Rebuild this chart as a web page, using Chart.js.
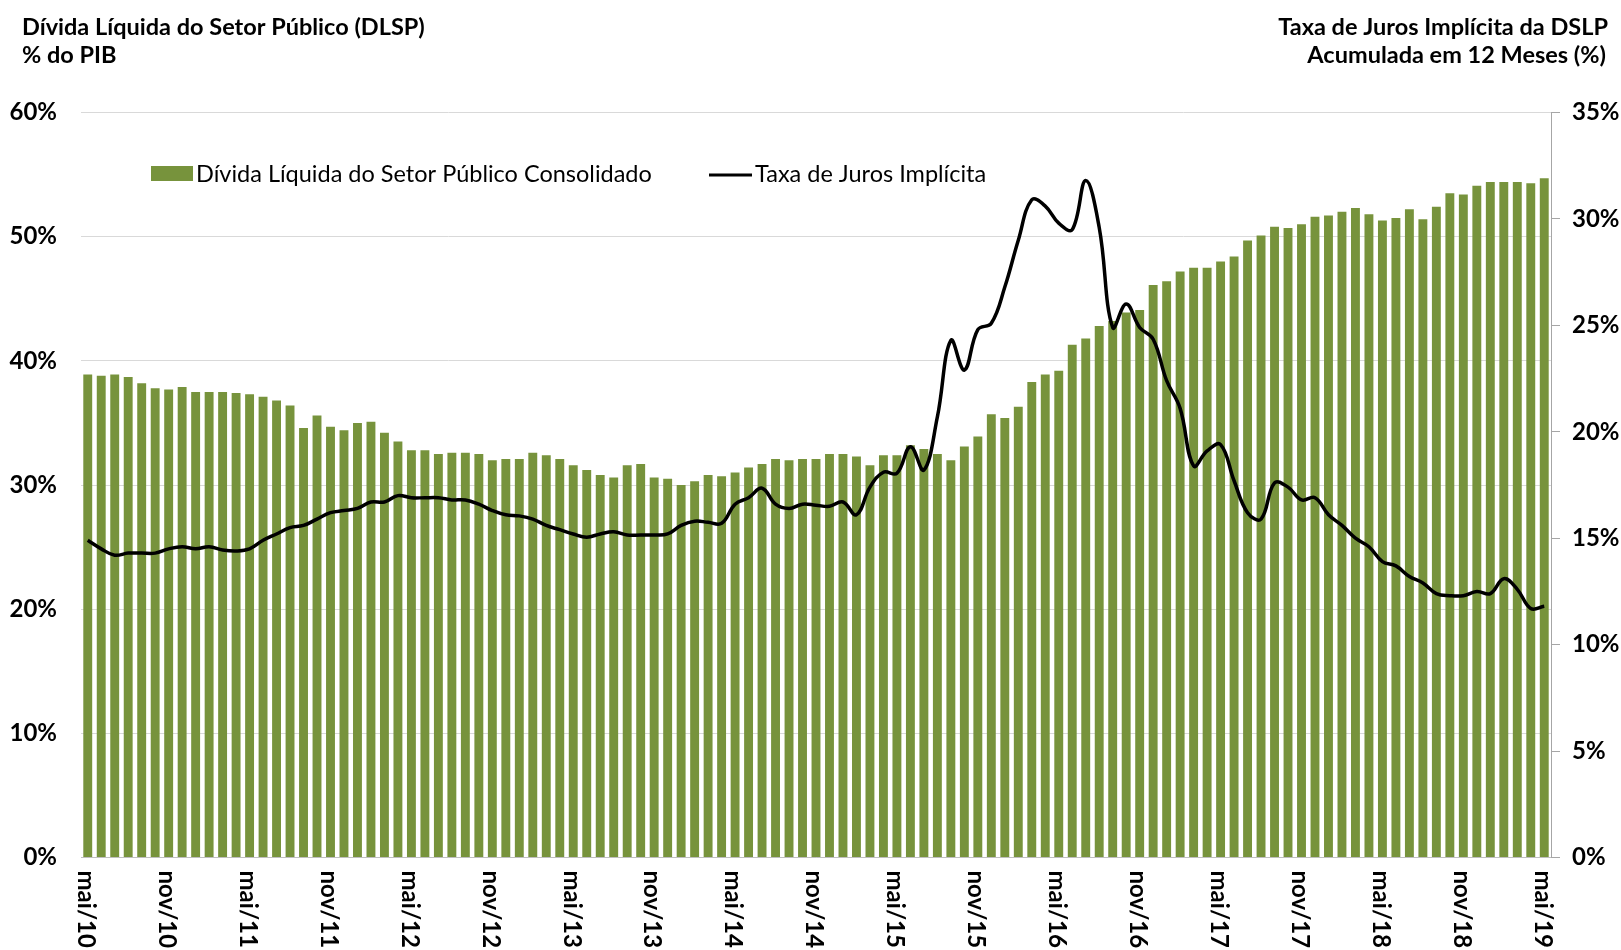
<!DOCTYPE html>
<html>
<head>
<meta charset="utf-8">
<script src="https://cdn.jsdelivr.net/npm/chart.js@4"></script>
<style>
  body { margin: 0; background: #fff; }
  #wrap { width: 1621px; height: 950px; }
</style>
</head>
<body>
<div id="wrap"><canvas id="grafico" width="1621" height="950"></canvas></div>
<script>
// meses de mai/10 a mai/19
const meses = ['jan', 'fev', 'mar', 'abr', 'mai', 'jun', 'jul', 'ago', 'set', 'out', 'nov', 'dez'];
const categorias = [];
for (let a = 10; a <= 19; a++) {
    meses.forEach((m, i) => {
        if ((a === 10 && i < 4) || (a === 19 && i > 4)) return;
        categorias.push(m + '/' + a);
    });
}

const rotulosX = ['mai/10', 'nov/10', 'mai/11', 'nov/11', 'mai/12', 'nov/12', 'mai/13', 'nov/13', 'mai/14', 'nov/14',
    'mai/15', 'nov/15', 'mai/16', 'nov/16', 'mai/17', 'nov/17', 'mai/18', 'nov/18', 'mai/19'];

// DLSP, % do PIB
const dlsp = [
    38.9, 38.8, 38.9, 38.7, 38.2, 37.8, 37.7, 37.9, 37.5, 37.5, 37.5, 37.4, 37.3, 37.1, 36.8, 36.4, 34.6, 35.6, 34.7, 34.4,
    35.0, 35.1, 34.2, 33.5, 32.8, 32.8, 32.5, 32.6, 32.6, 32.5, 32.0, 32.1, 32.1, 32.6, 32.4, 32.1, 31.6, 31.2, 30.8, 30.6,
    31.6, 31.7, 30.6, 30.5, 30.0, 30.3, 30.8, 30.7, 31.0, 31.4, 31.7, 32.1, 32.0, 32.1, 32.1, 32.5, 32.5, 32.3, 31.6, 32.4,
    32.4, 33.2, 32.9, 32.5, 32.0, 33.1, 33.9, 35.7, 35.4, 36.3, 38.3, 38.9, 39.2, 41.3, 41.8, 42.8, 43.2, 43.9, 44.1, 46.1,
    46.4, 47.2, 47.5, 47.5, 48.0, 48.4, 49.7, 50.1, 50.8, 50.7, 51.0, 51.6, 51.7, 52.0, 52.3, 51.8, 51.3, 51.5, 52.2, 51.4,
    52.4, 53.5, 53.4, 54.1, 54.4, 54.4, 54.4, 54.3, 54.7
];

// taxa de juros implicita acumulada em 12 meses, %
const juros = [
    14.9, 14.5, 14.2, 14.3, 14.3, 14.3, 14.5, 14.6, 14.5, 14.6, 14.45, 14.4, 14.5, 14.9, 15.2, 15.5, 15.6, 15.9, 16.2, 16.3,
    16.4, 16.7, 16.7, 17.0, 16.9, 16.9, 16.9, 16.8, 16.8, 16.6, 16.3, 16.1, 16.05, 15.9, 15.6, 15.4, 15.2, 15.05, 15.2, 15.3,
    15.15, 15.15, 15.15, 15.2, 15.6, 15.8, 15.75, 15.7, 16.6, 16.9, 17.35, 16.6, 16.4, 16.6, 16.55, 16.5, 16.7, 16.1, 17.4, 18.1,
    18.05, 19.3, 18.2, 20.7, 24.3, 22.9, 24.8, 25.1, 26.8, 29.0, 30.9, 30.6, 29.8, 29.5, 31.8, 29.6, 24.9, 26.0, 24.9, 24.35,
    22.4, 21.1, 18.4, 19.1, 19.4, 17.7, 16.2, 15.9, 17.6, 17.4, 16.8, 16.9, 16.1, 15.6, 15.0, 14.6, 13.9, 13.7, 13.2, 12.9,
    12.4, 12.3, 12.3, 12.5, 12.4, 13.1, 12.6, 11.7, 11.8
];

const verde = '#77933C';
const fonte = 'Lato';

// titulos, legenda e rotulos verticais do eixo x
const extras = {
    id: 'extras',
    afterDraw(chart) {
        const ctx = chart.ctx;
        ctx.save();
        ctx.fillStyle = '#000';
        ctx.textBaseline = 'middle';

        ctx.font = `bold 23.5px ${fonte}`;
        ctx.textAlign = 'left';
        ctx.fillText('Dívida Líquida do Setor Público (DLSP)', 22, 27);
        ctx.fillText('% do PIB', 22, 55);
        ctx.textAlign = 'right';
        ctx.fillText('Taxa de Juros Implícita da DSLP', 1608, 27);
        ctx.fillText('Acumulada em 12 Meses (%)', 1606, 55);

        // legenda
        const ds = chart.data.datasets;
        ctx.font = `23.5px ${fonte}`;
        ctx.textAlign = 'left';
        ctx.fillStyle = ds[0].backgroundColor;
        ctx.fillRect(151, 166, 42, 15);
        ctx.fillStyle = '#000';
        ctx.fillText(ds[0].label, 196, 174);
        ctx.strokeStyle = ds[1].borderColor;
        ctx.lineWidth = 3;
        ctx.beginPath();
        ctx.moveTo(709, 175);
        ctx.lineTo(752, 175);
        ctx.stroke();
        ctx.fillText(ds[1].label, 755, 174);

        // rotulos do eixo x, girados 90 graus no sentido horario
        const x = chart.scales.x;
        ctx.font = `bold 24px ${fonte}`;
        ctx.textAlign = 'left';
        rotulosX.forEach(r => {
            const px = x.getPixelForValue(categorias.indexOf(r));
            ctx.save();
            ctx.translate(px - 2, x.top + 13);
            ctx.rotate(Math.PI / 2);
            ctx.fillText(r, 0, 0);
            ctx.restore();
        });
        ctx.restore();
    }
};

new Chart(document.getElementById('grafico'), {
    data: {
        labels: categorias,
        datasets: [{
            type: 'bar',
            label: 'Dívida Líquida do Setor Público Consolidado',
            data: dlsp,
            backgroundColor: verde,
            yAxisID: 'y',
            categoryPercentage: 1,
            barPercentage: 0.66,
            order: 1
        }, {
            type: 'line',
            label: 'Taxa de Juros Implícita',
            data: juros,
            borderColor: '#000',
            borderWidth: 3.5,
            pointRadius: 0,
            tension: 0.4,
            yAxisID: 'y1',
            order: 0
        }]
    },
    options: {
        responsive: false,
        animation: false,
        layout: { padding: { top: 112.5, left: 0, right: 0, bottom: 0 } },
        plugins: {
            legend: { display: false },
            tooltip: { enabled: false }
        },
        scales: {
            x: {
                grid: { display: false },
                border: { display: true, color: '#bfbfbf' },
                ticks: { display: false },
                afterFit: s => { s.height = 92.5; }
            },
            y: {
                position: 'left',
                min: 0,
                max: 60,
                grid: { color: '#d9d9d9', lineWidth: 1, drawTicks: false },
                border: { display: false },
                ticks: {
                    stepSize: 10,
                    padding: 24,
                    color: '#000',
                    font: { family: fonte, size: 24, weight: 'bold' },
                    callback: v => v + '%'
                },
                afterFit: s => { s.width = 81; }
            },
            y1: {
                position: 'right',
                min: 0,
                max: 35,
                grid: { drawOnChartArea: false, drawTicks: true, tickLength: 9, color: '#a6a6a6' },
                border: { display: true, color: '#a6a6a6' },
                ticks: {
                    stepSize: 5,
                    padding: 12,
                    color: '#000',
                    font: { family: fonte, size: 24, weight: 'bold' },
                    callback: v => v + '%'
                },
                afterFit: s => { s.width = 70; }
            }
        }
    },
    plugins: [extras]
});
</script>
</body>
</html>
